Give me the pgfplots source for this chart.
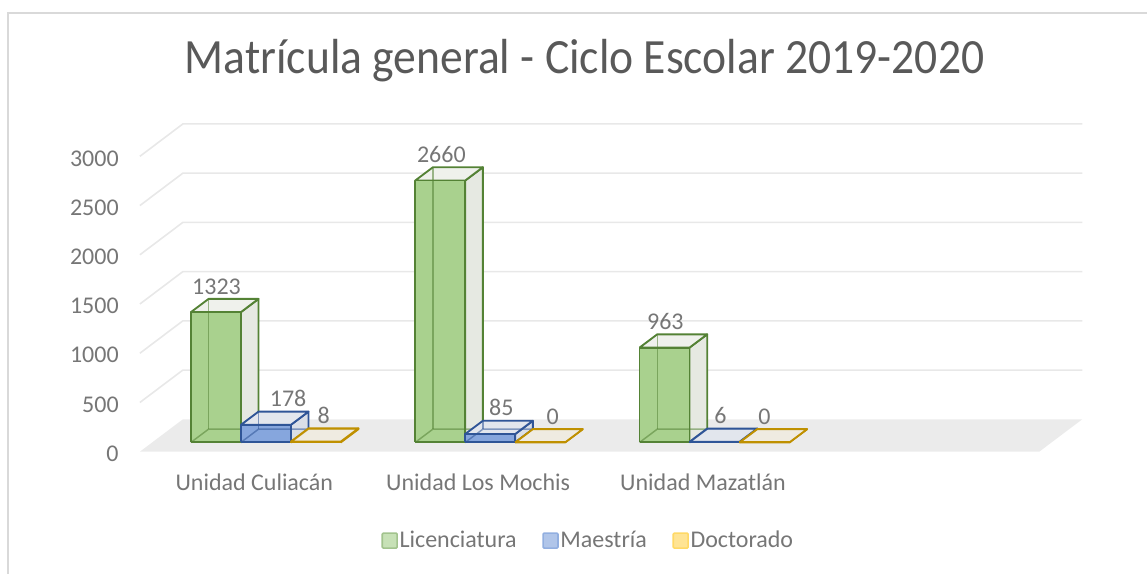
\documentclass[border=0pt]{standalone}
\usepackage{pgfplots}
\pgfplotsset{compat=1.18}
\usepackage{pgfplotstable}
\usepackage{fontspec}
\setmainfont{Carlito}

\definecolor{licfront}{HTML}{A9D18E}
\definecolor{licside}{HTML}{E6E9E2}
\definecolor{lictop}{HTML}{EFF1EC}
\definecolor{licline}{HTML}{548235}
\definecolor{maefront}{HTML}{86A6DD}
\definecolor{maeside}{HTML}{DADFE7}
\definecolor{maetop}{HTML}{E2E6ED}
\definecolor{maeline}{HTML}{2F5597}
\definecolor{docfront}{HTML}{FFD966}
\definecolor{docside}{HTML}{EAE6DB}
\definecolor{doctop}{HTML}{EFEBE1}
\definecolor{docline}{HTML}{BF9000}
\definecolor{labelgray}{HTML}{767676}
\definecolor{titlegray}{HTML}{595959}
\definecolor{gridgray}{HTML}{E8E8E8}
\definecolor{floorgray}{HTML}{EBEBEB}
\definecolor{framegray}{HTML}{D9D9D9}

% data labels: x position (px) and value
\pgfplotstableread{
x v
216.7 1323
288.3 178
324 8
441.7 2660
501.7 85
553 0
665.8 963
721 6
765 0
}\labeltable

% 3D bar: #1 front-left x (px), #2 value, #3 colour prefix
\newcommand{\barthreed}[3]{%
  \pgfmathsetmacro\xa{#1}%
  \pgfmathsetmacro\xb{#1+50}%
  \pgfmathsetmacro\xc{#1+17.7}%
  \pgfmathsetmacro\xd{#1+67.7}%
  \pgfmathsetmacro\ya{94}%
  \pgfmathsetmacro\yb{94+#2}%
  \pgfmathsetmacro\yc{229}%
  \pgfmathsetmacro\yd{229+#2}%
  \edef\doit{%
    \noexpand\addplot[forget plot, mark=none, fill=#3side, draw=#3line, line width=1.4pt, line join=round]
      coordinates {(\xb,\ya) (\xd,\yc) (\xd,\yd) (\xb,\yb) (\xb,\ya)};
    \noexpand\addplot[forget plot, mark=none, fill=#3top, draw=#3line, line width=1.4pt, line join=round]
      coordinates {(\xa,\yb) (\xb,\yb) (\xd,\yd) (\xc,\yd) (\xa,\yb)};
    \noexpand\addplot[forget plot, mark=none, fill=#3front, draw=#3line, line width=1.4pt, line join=round]
      coordinates {(\xa,\ya) (\xb,\ya) (\xb,\yb) (\xa,\yb) (\xa,\ya)};
    \noexpand\addplot[forget plot, mark=none, draw=#3line, draw opacity=0.55, line width=1.1pt]
      coordinates {(\xa,\ya) (\xc,\yc) (\xd,\yc)};
    \noexpand\addplot[forget plot, mark=none, draw=#3line, draw opacity=0.55, line width=1.1pt]
      coordinates {(\xc,\yc) (\xc,\yd)};
  }\doit
}

\begin{document}
\begin{tikzpicture}
\begin{axis}[
  scale only axis, width=861pt, height=430.5pt,
  xmin=0, xmax=1148, ymin=-1238.3, ymax=4587.8,
  clip=false,
  axis line style={draw=none},
  tick style={draw=none},
  major tick length=0pt,
  ytick={0,500,1000,1500,2000,2500,3000},
  xtick={254.5,478.5,703.5},
  xticklabels={Unidad Culiacán, Unidad Los Mochis, Unidad Mazatlán},
  /pgf/number format/1000 sep={},
  /pgf/number format/assume math mode=true,
  yticklabel style={anchor=east, inner sep=0pt, xshift=89.25pt, yshift=-1.5pt,
    font=\fontsize{18}{20}\selectfont, text=labelgray},
  xticklabel style={anchor=base, inner sep=0pt, yshift=62.25pt,
    font=\fontsize{18}{20}\selectfont, text=labelgray},
  legend columns=3,
  legend style={draw=none, fill=none, at={(axis cs:588.5,-903)}, anchor=center,
    font=\fontsize{18}{20}\selectfont, text=labelgray,
    nodes={inner xsep=1.2pt, inner ysep=0pt},
    /tikz/every even column/.append style={column sep=18pt}},
  legend image code/.code={\draw[#1, line width=1.2pt, rounded corners=0.8pt] (0pt,-5.6pt) rectangle (11.2pt,5.6pt);},
]
% floor
\addplot[forget plot, mark=none, fill=floorgray, draw=none]
  coordinates {(140,0) (1040,0) (1083,329) (183,329) (140,0)};
% gridlines (left wall diagonal + back wall)
\addplot[forget plot, mark=none, draw=gridgray, line width=1.2pt] coordinates {(140,500) (183,829) (1083,829)};
\addplot[forget plot, mark=none, draw=gridgray, line width=1.2pt] coordinates {(140,1000) (183,1329) (1083,1329)};
\addplot[forget plot, mark=none, draw=gridgray, line width=1.2pt] coordinates {(140,1500) (183,1829) (1083,1829)};
\addplot[forget plot, mark=none, draw=gridgray, line width=1.2pt] coordinates {(140,2000) (183,2329) (1083,2329)};
\addplot[forget plot, mark=none, draw=gridgray, line width=1.2pt] coordinates {(140,2500) (183,2829) (1083,2829)};
\addplot[forget plot, mark=none, draw=gridgray, line width=1.2pt] coordinates {(140,3000) (183,3329) (1083,3329)};

% bars
\barthreed{191}{1323}{lic}
\barthreed{241}{178}{mae}
\barthreed{291}{8}{doc}
\barthreed{415.5}{2660}{lic}
\barthreed{465.5}{85}{mae}
\barthreed{515.5}{0}{doc}
\barthreed{640}{963}{lic}
\barthreed{690}{6}{mae}
\barthreed{740}{0}{doc}

% data labels
\addplot[forget plot, draw=none, mark=none, nodes near coords, point meta=explicit symbolic,
  nodes near coords style={anchor=base, inner sep=0pt, font=\fontsize{18}{20}\selectfont, text=labelgray}]
  table[x=x, y expr=\thisrow{v}+278, meta=v] {\labeltable};

% legend
\addlegendimage{fill=licfront!65, draw=licfront!90!black!90}
\addlegendentry{Licenciatura}
\addlegendimage{fill=maefront!65, draw=maefront!90}
\addlegendentry{Maestría}
\addlegendimage{fill=docfront!70, draw=docfront}
\addlegendentry{Doctorado}

% title
\node[anchor=base, font=\fontsize{37}{40}\selectfont, text=titlegray, inner sep=0pt] at (axis cs:585,3844) {\scalebox{0.925}[1]{Matrícula general - Ciclo Escolar 2019-2020}};
% chart frame
\draw[framegray, line width=1.2pt] (axis cs:8.3,-1238.3) -- (axis cs:8.3,4456) -- (axis cs:1148,4456);
\end{axis}
\end{tikzpicture}
\end{document}
